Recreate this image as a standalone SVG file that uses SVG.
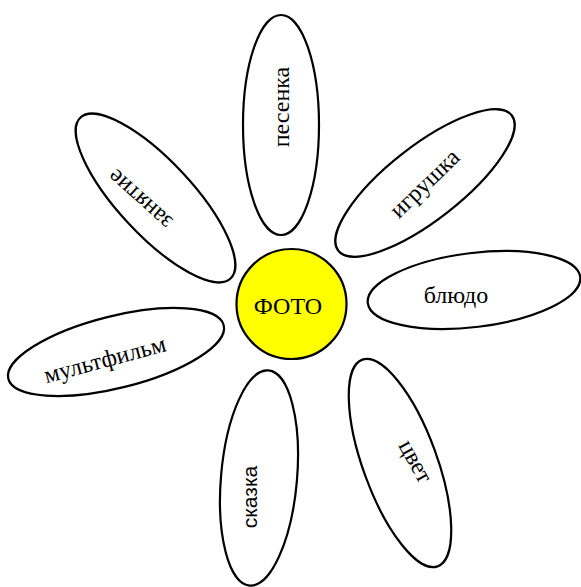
<svg xmlns="http://www.w3.org/2000/svg" width="581" height="587" viewBox="0 0 581 587">
<style>
.petal{fill:#fff;stroke:#000;stroke-width:2.2}
.lbl{font-family:"Liberation Serif","Times New Roman",serif;font-size:24px;fill:#000;text-anchor:middle}
.sans{font-family:"Liberation Sans",Arial,sans-serif;font-size:21px;fill:#000;text-anchor:middle}
</style>
<rect width="581" height="587" fill="#fff"/>
<g id="connectors"></g>
<g id="petal-pesenka">
<ellipse class="petal" cx="281" cy="125" rx="38" ry="110"/>
<text class="lbl" transform="translate(289,107) rotate(-90)">песенка</text>
</g>
<g id="petal-igrushka">
<ellipse class="petal" transform="translate(425,183) rotate(52)" rx="37" ry="110"/>
<text class="lbl" transform="translate(430,189) rotate(-44)">игрушка</text>
</g>
<g id="petal-bludo">
<ellipse class="petal" transform="translate(474,290) rotate(-7)" rx="107" ry="37"/>
<text class="lbl" x="456" y="303">блюдо</text>
</g>
<g id="petal-cvet">
<ellipse class="petal" transform="translate(400,463) rotate(-20)" rx="37" ry="110"/>
<text class="lbl" transform="translate(409,465) rotate(61)">цвет</text>
</g>
<g id="petal-skazka">
<ellipse class="petal" transform="translate(259,478) rotate(5)" rx="38" ry="108"/>
<text class="sans" transform="translate(257,497) rotate(-90)">сказка</text>
</g>
<g id="petal-multfilm">
<ellipse class="petal" transform="translate(116,352) rotate(-14)" rx="111" ry="36"/>
<text class="lbl" transform="translate(107,367) rotate(-15)">мультфильм</text>
</g>
<g id="petal-zanyatie">
<ellipse class="petal" transform="translate(155.5,198) rotate(-43)" rx="37" ry="110"/>
<text class="lbl" transform="translate(145,194) rotate(222)">занятие</text>
</g>
<g id="center">
<circle cx="291.5" cy="304" r="55" fill="#ffff00" stroke="#000" stroke-width="2.2"/>
<text class="lbl" x="288" y="314">ФОТО</text>
</g>
</svg>
